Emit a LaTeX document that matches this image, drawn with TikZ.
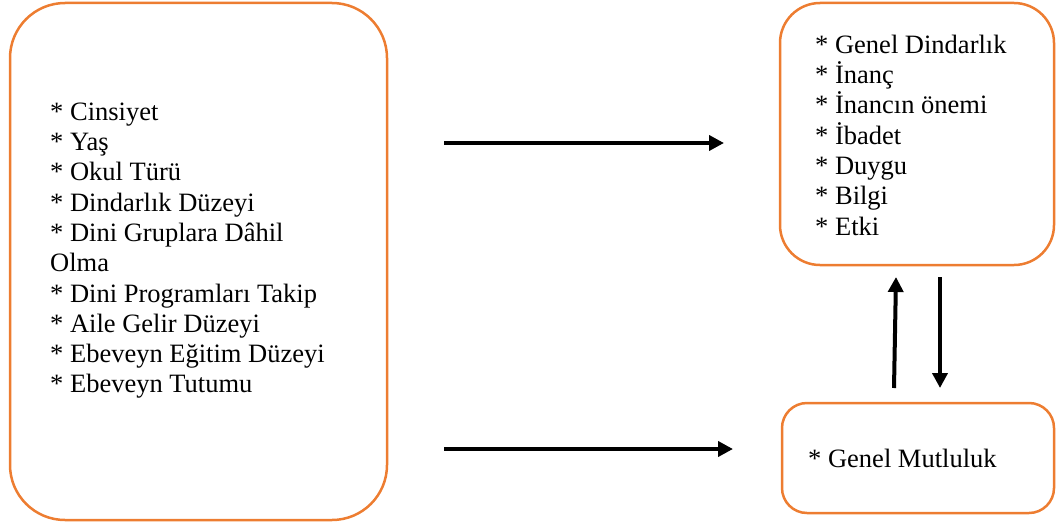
\documentclass[tikz,border=0pt]{standalone}
\usepackage{fontspec}
\setmainfont{Liberation Serif}
\usetikzlibrary{arrows.meta}
\definecolor{boxorange}{HTML}{ED7D31}
\newcommand{\firstlinestrut}{\rule{0pt}{22pt}}
\begin{document}
\begin{tikzpicture}[x=1pt,y=-1pt,
  box/.style={draw=boxorange, line width=2.5pt, rounded corners=#1, inner sep=0pt},
  lbl/.style={anchor=north west, align=left, inner sep=0pt, font=\fontsize{26.5}{30.3}\selectfont},
  arr/.style={line width=4pt, -{Triangle[length=15pt,width=15pt]}}]
\useasboundingbox (0,0) rectangle (1056,527);
\node[box=55pt, minimum width=377pt, minimum height=517pt] (left) at (198.5,261.5) {};
\node[box=40pt, minimum width=274pt, minimum height=262pt] (rtop) at (917,134) {};
\node[box=25pt, minimum width=272pt, minimum height=110pt] (rbot) at (918,458) {};

\node[lbl] (ltext) at (50,98) {\firstlinestrut* Cinsiyet\\* Yaş\\* Okul Türü\\* Dindarlık Düzeyi\\* Dini Gruplara Dâhil\\Olma\\* Dini Programları Takip\\* Aile Gelir Düzeyi\\* Ebeveyn Eğitim Düzeyi\\* Ebeveyn Tutumu};
\node[lbl] (rtext) at (815,31) {\firstlinestrut* Genel Dindarlık\\* İnanç\\* İnancın önemi\\* İbadet\\* Duygu\\* Bilgi\\* Etki};
\node[lbl] (btext) at (808,445) {\firstlinestrut* Genel Mutluluk};

\coordinate (h1s) at (444,143);
\coordinate (h1e) at (724,143);
\coordinate (h2s) at (444,449);
\coordinate (h2e) at (733,449);
\coordinate (ups) at (894,388);
\coordinate (upe) at (896,277);
\coordinate (dns) at (940,277);
\coordinate (dne) at (940,388);
\draw[arr] (h1s) -- (h1e);
\draw[arr] (h2s) -- (h2e);
\draw[arr] (ups) -- (upe);
\draw[arr] (dns) -- (dne);
\end{tikzpicture}
\end{document}
